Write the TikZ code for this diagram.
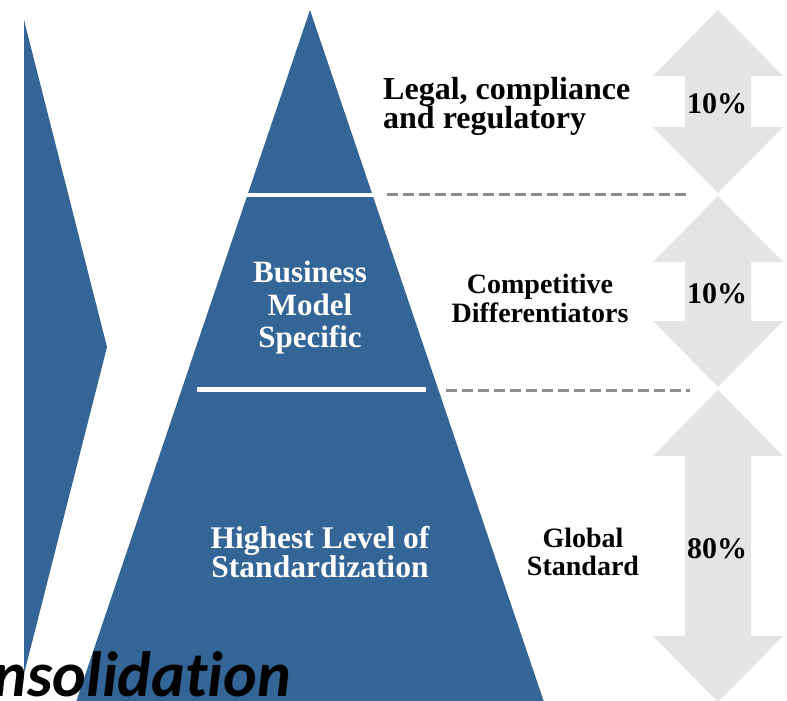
\documentclass[tikz,border=0pt]{standalone}
\usepackage{fontspec}
\setmainfont{Liberation Serif}
\newfontfamily\bannerfont[Ligatures=NoCommon]{Carlito}

\definecolor{pyrblue}{RGB}{51,101,150}
\definecolor{sharegray}{RGB}{228,228,228}
\definecolor{dashgray}{RGB}{140,140,140}

\newcommand\pyrtextstyle{\fontsize{31}{32.5}\selectfont\bfseries}
\newcommand\sidetextstyle{\fontsize{28}{29}\selectfont\bfseries}
\newcommand\pcttextstyle{\fontsize{30}{30}\selectfont\bfseries}
\newcommand\sharehead{66}
\newcommand\sharewidth{65}
\newcommand\shareshaft{33}
% double arrow: centre x, top tip, bottom tip
\newcommand\sharearrow[3]{
  \fill[sharegray] (#1, #2) -- ++(\sharewidth, \sharehead) -- (#1 + \shareshaft, #2 + \sharehead)
    -- (#1 + \shareshaft, #3 - \sharehead) -- (#1 + \sharewidth, #3 - \sharehead) -- (#1, #3)
    -- (#1 - \sharewidth, #3 - \sharehead) -- (#1 - \shareshaft, #3 - \sharehead)
    -- (#1 - \shareshaft, #2 + \sharehead) -- (#1 - \sharewidth, #2 + \sharehead) -- cycle ;
}

\begin{document}
\begin{tikzpicture}[x=1pt, y=-1pt,
    pyrtext/.style={text=white, inner sep=0, align=center, font=\pyrtextstyle},
    sidetext/.style={inner sep=0, align=center, font=\sidetextstyle},
    pcttext/.style={inner sep=0, font=\pcttextstyle},
    levelline/.style={dashgray, line width=3pt, dash pattern=on 11pt off 5pt}]
  \useasboundingbox (0, 0) rectangle (787, 701) ;
  \clip (0, 0) rectangle (787, 701) ;

  % chevron and pyramid
  \fill[pyrblue] (24, 20) -- (107, 347) -- (24, 674) -- cycle ;
  \fill[pyrblue] (310, 10) -- (545, 705) -- (75, 705) -- cycle ;
  \draw[white, line width=4pt] (240, 195) -- (382, 195) ;
  \draw[white, line width=4.5pt] (197, 389.5) -- (426, 389.5) ;

  \node[pyrtext] (bizmodel) at (310, 308) {Business\\Model\\Specific} ;
  \node[pyrtext, font=\fontsize{31.5}{29.5}\selectfont\bfseries] (highstd) at (320, 552) {Highest Level of\\Standardization} ;

  % levels
  \coordinate (lvlonew) at (387, 194) ;
  \coordinate (lvlonee) at (690, 194) ;
  \coordinate (lvltwow) at (446, 390) ;
  \coordinate (lvltwoe) at (690, 390) ;
  \draw[levelline] (lvlonew) -- (lvlonee) ;
  \draw[levelline] (lvltwow) -- (lvltwoe) ;

  \node[sidetext, align=left, anchor=west, font=\fontsize{32}{29.5}\selectfont\bfseries] (legal) at (383, 106.5) {Legal, compliance\\and regulatory} ;
  \node[sidetext] (compdiff) at (540, 298) {Competitive\\Differentiators} ;
  \node[sidetext, font=\fontsize{28}{28}\selectfont\bfseries] (globstd) at (583, 551.5) {Global\\Standard} ;

  \sharearrow{718}{10}{193}
  \sharearrow{718}{196}{387}
  \sharearrow{718}{390}{702}
  \node[pcttext] (pctlegal) at (717, 103.5) {10\%} ;
  \node[pcttext] (pctcomp) at (717, 293.5) {10\%} ;
  \node[pcttext] (pctglob) at (717, 548.5) {80\%} ;

  \node[inner sep=0, anchor=base east, font=\bannerfont\bfseries\itshape\fontsize{64}{64}\selectfont] (banner) at (291, 696) {nsolidation} ;
\end{tikzpicture}
\end{document}
